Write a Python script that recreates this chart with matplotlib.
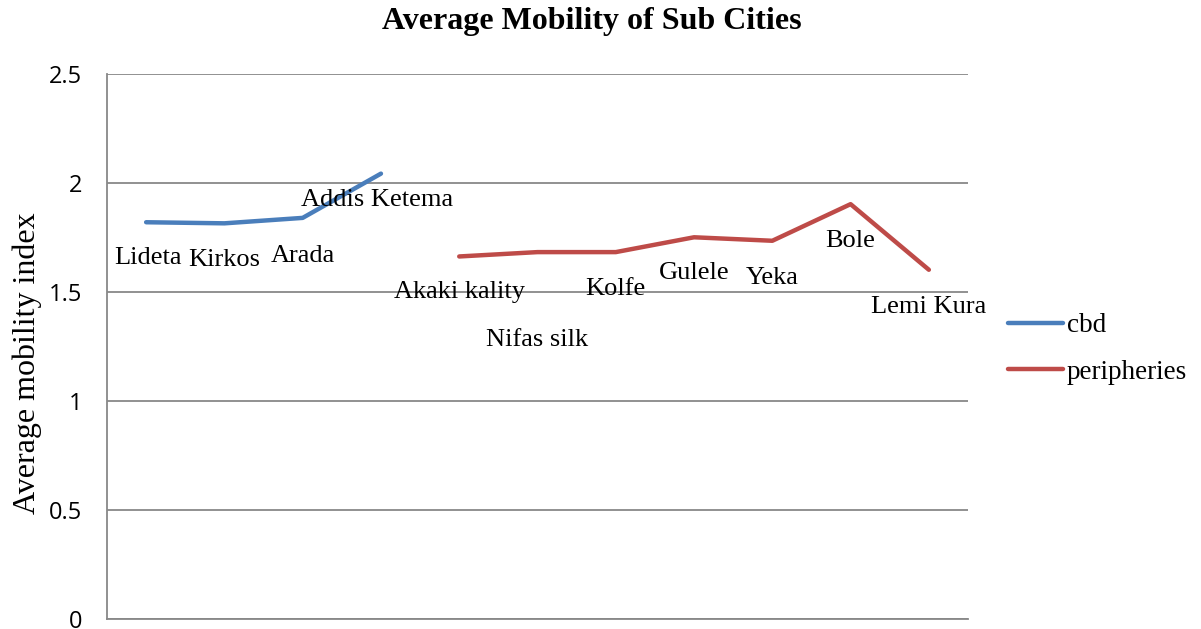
import matplotlib
matplotlib.use("Agg")
import matplotlib.pyplot as plt

SUB_CITIES = ["Lideta", "Kirkos", "Arada", "Addis Ketema",
              "Akaki kality", "Nifas silk", "Kolfe", "Gulele", "Yeka", "Bole", "Lemi Kura"]
CBD = [1.82, 1.815, 1.84, 2.043]
PERIPHERIES = [1.663, 1.683, 1.683, 1.751, 1.735, 1.903, 1.602]

# label offsets in pixels (dx, dy) relative to each point, Excel-style placement
LABEL_OFFSETS = [(2, -36), (0, -37), (0, -38), (-4, -26),
                 (0, -36), (0, -88), (0, -37), (0, -36), (0, -37), (0, -37), (0, -37)]

BLUE = "#4A7EBB"
RED = "#BE4B48"
GRID = "#888888"
SERIF = "Liberation Serif"
SANS = "Open Sans"

fig = plt.figure(figsize=(12.01, 6.29), dpi=100)
ax = fig.add_axes([107 / 1201, 1 - 619 / 629, (968 - 107) / 1201, (619 - 74) / 629])

x_cbd = list(range(len(CBD)))
x_per = list(range(len(CBD), len(CBD) + len(PERIPHERIES)))

ax.plot(x_cbd, CBD, color=BLUE, linewidth=3.2, solid_capstyle="round", label="cbd")
ax.plot(x_per, PERIPHERIES, color=RED, linewidth=3.2, solid_capstyle="round",
        label="peripheries")

values = CBD + PERIPHERIES
for i, (name, v) in enumerate(zip(SUB_CITIES, values)):
    dx, dy = LABEL_OFFSETS[i]
    ax.annotate(name, xy=(i, v), xytext=(dx * 0.72, dy * 0.72), textcoords="offset points",
                ha="center", va="center", fontsize=19, family=SERIF, color="black")

ax.set_xlim(-0.5, len(SUB_CITIES) - 0.5)
ax.set_ylim(0, 2.5)
ax.set_yticks([0, 0.5, 1, 1.5, 2, 2.5])
ax.set_yticklabels(["0", "0.5", "1", "1.5", "2", "2.5"], family=SANS, fontsize=17)
ax.set_xticks([])
ax.tick_params(axis="y", length=0, pad=18)

ax.grid(True, axis="y", color=GRID, linewidth=1.3)
ax.set_axisbelow(True)
for s in ("top", "right"):
    ax.spines[s].set_visible(False)
for s in ("left", "bottom"):
    ax.spines[s].set_color(GRID)
    ax.spines[s].set_linewidth(1.3)

ax.set_ylabel("Average mobility index", family=SERIF, fontsize=23)
ax.yaxis.set_label_coords(-0.075, 0.47)

fig.text(592 / 1201, 1 - 22 / 629, "Average Mobility of Sub Cities", ha="center", va="center",
         family=SERIF, fontsize=23, fontweight="bold")

ax.legend(loc="center left", bbox_to_anchor=(984 / 1201, 1 - 349 / 629),
          bbox_transform=fig.transFigure, frameon=False, handlelength=2.0,
          handletextpad=0.15, labelspacing=0.8, prop={"family": SERIF, "size": 19.5})

fig.savefig("out.png", dpi=100)
